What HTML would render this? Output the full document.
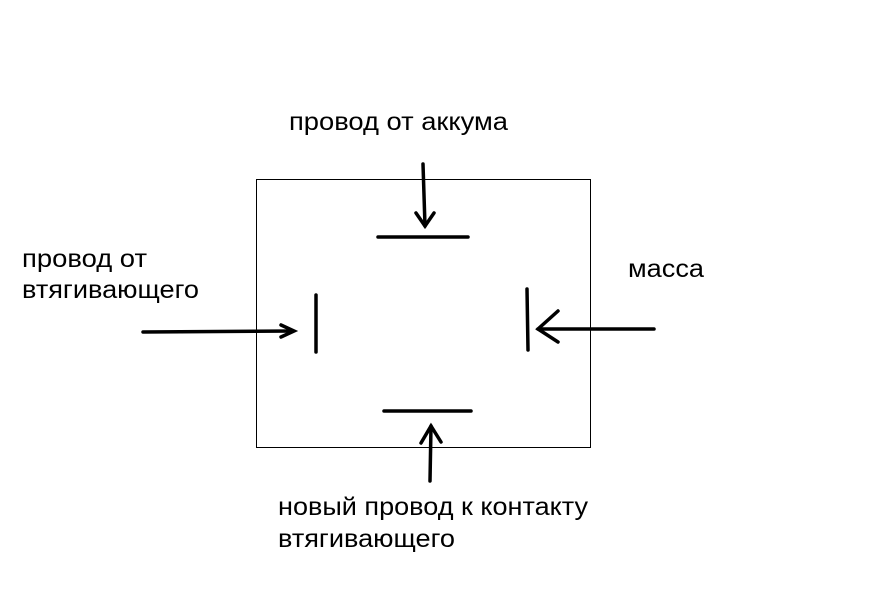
<!DOCTYPE html>
<html><head><meta charset="utf-8"><style>html,body{margin:0;padding:0;background:#fff;}svg{display:block}</style></head>
<body>
<svg width="875" height="608" viewBox="0 0 875 608" xmlns="http://www.w3.org/2000/svg" font-family="Liberation Sans, Arial, sans-serif" font-size="25" fill="#000">
<rect x="256.5" y="179.5" width="334" height="268" fill="none" stroke="#000" stroke-width="1"/>
<g stroke="#000" stroke-width="3.5" stroke-linecap="round" fill="none">
<line x1="423" y1="164" x2="425" y2="226"/>
<polyline points="416,213 425,226 434,213"/>
<line x1="378" y1="237" x2="468" y2="237"/>
<line x1="143" y1="332" x2="293" y2="331"/>
<polyline points="281,325 294,331 281,337"/>
<line x1="316" y1="295" x2="316" y2="352"/>
<line x1="527" y1="289" x2="528" y2="350"/>
<line x1="538" y1="329" x2="654" y2="329"/>
<polyline points="558,311 538,329 558,342"/>
<line x1="384" y1="411" x2="471" y2="411"/>
<line x1="430" y1="481" x2="431" y2="426"/>
<polyline points="421,443 431,426 441,442"/>
</g>
<text x="289" y="130" textLength="219" lengthAdjust="spacingAndGlyphs">провод от аккума</text>
<text x="22" y="267" textLength="125" lengthAdjust="spacingAndGlyphs">провод от</text>
<text x="22" y="298" textLength="177" lengthAdjust="spacingAndGlyphs">втягивающего</text>
<text x="628" y="277" textLength="76" lengthAdjust="spacingAndGlyphs">масса</text>
<text x="278" y="515" textLength="310" lengthAdjust="spacingAndGlyphs">новый провод к контакту</text>
<text x="278" y="547" textLength="177" lengthAdjust="spacingAndGlyphs">втягивающего</text>
</svg>
</body></html>
